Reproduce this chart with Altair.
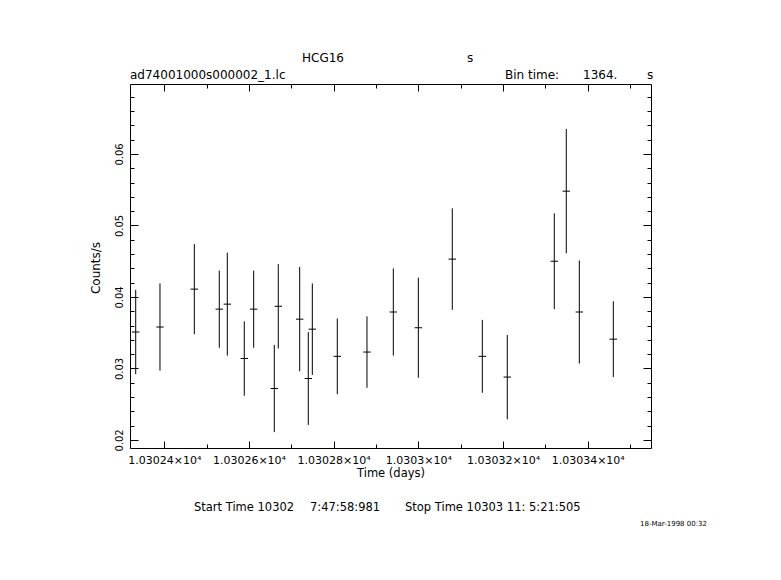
import altair as alt
import pandas as pd

# ---- data ----
time_days = [10302.3325, 10302.3898, 10302.4709, 10302.5299, 10302.5488, 10302.5889,
             10302.6111, 10302.6598, 10302.6692, 10302.7198, 10302.7401, 10302.7496,
             10302.8086, 10302.8787, 10302.9409, 10303.0000, 10303.0802, 10303.1511,
             10303.2101, 10303.3211, 10303.3494, 10303.3802, 10303.4605]
rate = [0.0351, 0.0358, 0.0411, 0.0383, 0.0390, 0.0314, 0.0383, 0.0272, 0.0387,
        0.0369, 0.0286, 0.0355, 0.0317, 0.0323, 0.0379, 0.0357, 0.0453, 0.0317,
        0.0288, 0.0450, 0.0548, 0.0379, 0.0341]
rate_err = [0.0059, 0.0061, 0.0063, 0.0054, 0.0072, 0.0052, 0.0054, 0.0061, 0.0059,
            0.0073, 0.0065, 0.0064, 0.0053, 0.0050, 0.0061, 0.0070, 0.0071, 0.0051,
            0.0059, 0.0067, 0.0087, 0.0072, 0.0053]
half_bin_days = 0.0088

x_major = [10302.4, 10302.6, 10302.8, 10303.0, 10303.2, 10303.4]
x_minor = [10302.5, 10302.7, 10302.9, 10303.1, 10303.3, 10303.5]
y_major = [0.02, 0.03, 0.04, 0.05, 0.06]
y_minor = [0.022, 0.024, 0.026, 0.028, 0.032, 0.034, 0.036, 0.038,
           0.042, 0.044, 0.046, 0.048, 0.052, 0.054, 0.056, 0.058,
           0.062, 0.064, 0.066, 0.068]
x_domain = [10302.319, 10303.5495]
y_domain = [0.01888, 0.06979]

W, H = 521, 364
FONT = "DejaVu Sans"

df = pd.DataFrame({"t": time_days, "rate": rate, "err": rate_err})
df["lo"] = df["rate"] - df["err"]
df["hi"] = df["rate"] + df["err"]
df["t_lo"] = df["t"] - half_bin_days
df["t_hi"] = df["t"] + half_bin_days

xs = alt.Scale(domain=x_domain, nice=False, zero=False)
ys = alt.Scale(domain=y_domain, nice=False, zero=False)

base = alt.Chart(df)

vbar = base.mark_rule(color="black", strokeWidth=1).encode(
    x=alt.X("t:Q", scale=xs, axis=None),
    y=alt.Y("lo:Q", scale=ys, axis=None),
    y2="hi:Q",
)
hbar = base.mark_rule(color="black", strokeWidth=1).encode(
    x=alt.X("t_lo:Q", scale=xs, axis=None),
    x2="t_hi:Q",
    y=alt.Y("rate:Q", scale=ys, axis=None),
)


def tick_axis(orient, offset, values, size):
    return alt.Axis(orient=orient, offset=offset, values=values, labels=False,
                    domain=False, grid=False, ticks=True, tickSize=size,
                    tickColor="black", tickWidth=1, title=None)


def axis_layer(xaxis, yaxis):
    return base.mark_point(opacity=0).encode(
        x=alt.X("t:Q", scale=xs, axis=xaxis),
        y=alt.Y("rate:Q", scale=ys, axis=yaxis),
    )


x_label_axis = alt.Axis(
    orient="bottom", values=x_major, ticks=False, domain=False, grid=False,
    labelExpr="format(datum.value/10000, '.6~g') + '×10⁴'",
    labelFont=FONT, labelFontSize=11, labelColor="black", labelPadding=6,
    labelFlush=False, labelOverlap=False,
    title="Time (days)", titleFont=FONT, titleFontSize=11.5, titleFontWeight="normal",
    titleColor="black", titleX=260.5, titleY=25, titleAlign="center",
    titleBaseline="middle", titleAngle=0,
)
y_label_axis = alt.Axis(
    orient="left", values=y_major, ticks=False, domain=False, grid=False,
    labelAngle=270, labelAlign="center", labelBaseline="bottom", labelPadding=6,
    labelFont=FONT, labelFontSize=10, labelColor="black", labelFlush=False,
    labelOverlap=False, format=".2f",
    title="Counts/s", titleFont=FONT, titleFontSize=12, titleFontWeight="normal",
    titleColor="black", titleX=-35, titleY=183.5, titleAngle=270,
    titleAlign="center", titleBaseline="middle",
)

layers = [
    axis_layer(x_label_axis, y_label_axis),
    axis_layer(tick_axis("top", -H, x_major, 7), tick_axis("right", -W, y_major, 8)),
    axis_layer(tick_axis("top", -H, x_minor, 4), tick_axis("right", -W, y_minor, 4)),
    axis_layer(tick_axis("bottom", -H, x_major, 7), tick_axis("left", -W, y_major, 8)),
    axis_layer(tick_axis("bottom", -H, x_minor, 4), tick_axis("left", -W, y_minor, 4)),
    vbar,
    hbar,
]


def label(txt, x, y, size=12, align="left"):
    return alt.Chart(alt.Data(values=[{}])).mark_text(
        font=FONT, fontSize=size, color="black", align=align, baseline="middle"
    ).encode(x=alt.value(x), y=alt.value(y), text=alt.value(txt))


texts = [
    label("HCG16", 193, -26, align="center"),
    label("s", 337, -26),
    label("ad74001000s000002_1.lc", 0, -9),
    label("Bin time:", 375, -9),
    label("1364.", 453, -9),
    label("s", 517, -9),
    label("Start Time 10302", 64, 424, size=11.5),
    label("7:47:58:981", 180, 424, size=11.5),
    label("Stop Time 10303 11: 5:21:505", 275, 424, size=11.5),
    label("18-Mar-1998 00:32", 510, 440, size=7),
]

chart = alt.layer(*layers, *texts).resolve_axis(
    x="independent", y="independent"
).properties(
    width=W, height=H,
    autosize=alt.AutoSizeParams(type="none"),
    padding={"left": 122, "top": 76, "right": 110, "bottom": 120},
    background="white",
).configure_view(stroke="black", strokeWidth=1)

chart.save("out.html", embed_options={"renderer": "svg", "actions": False})
